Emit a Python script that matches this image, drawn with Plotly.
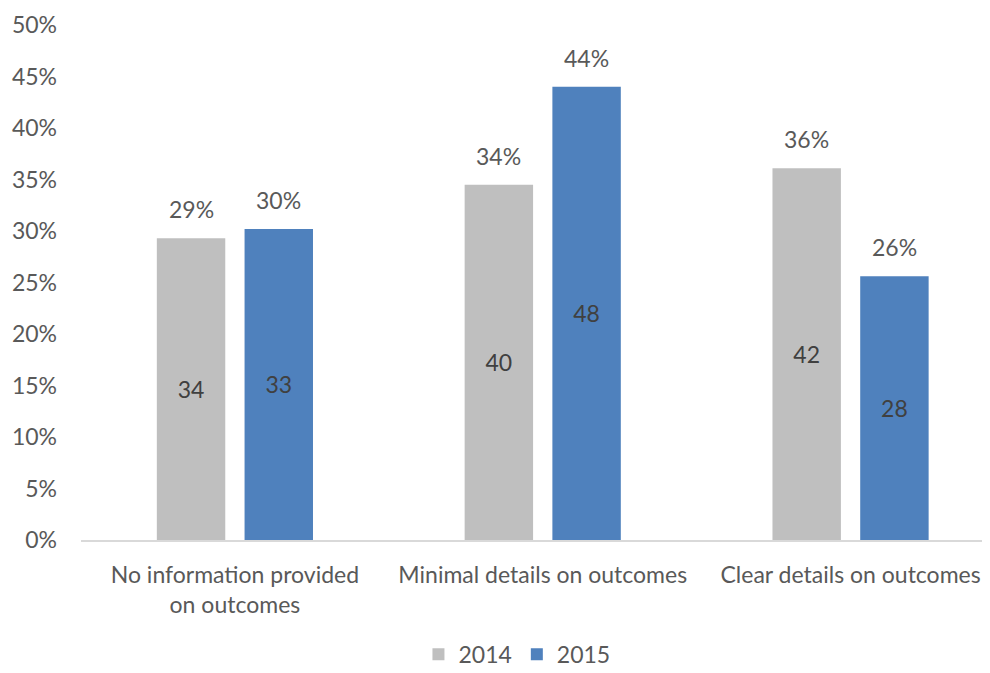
import plotly.graph_objects as go

categories = ["No information provided<br>on outcomes", "Minimal details on outcomes", "Clear details on outcomes"]
years = ["2014", "2015"]
share_2014 = [0.293, 0.3448, 0.361]
share_2015 = [0.302, 0.440, 0.256]
pct_2014 = ["29%", "34%", "36%"]
pct_2015 = ["30%", "44%", "26%"]
count_2014 = ["34", "40", "42"]
count_2015 = ["33", "48", "28"]
colors = ["#BFBFBF", "#4F81BD"]

FONT = "Lato"
fs = 24
txt = "#595959"

fig = go.Figure()
series = [(share_2014, count_2014, pct_2014), (share_2015, count_2015, pct_2015)]
for i, (vals, counts, pcts) in enumerate(series):
    fig.add_trace(go.Bar(
        x=categories, y=vals, name=years[i],
        marker=dict(color=colors[i], line=dict(width=0)),
        text=counts, textposition="inside", insidetextanchor="middle",
        textangle=0,
        textfont=dict(family=FONT, size=fs - 1, color="#404040"),
        cliponaxis=False,
    ))
    for j, c in enumerate(categories):
        fig.add_annotation(
            x=c, y=vals[j], text=pcts[j], showarrow=False,
            xshift=(i - 0.5) * 87.5, yshift=29, yanchor="middle",
            font=dict(family=FONT, size=fs - 1, color=txt),
        )

fig.update_layout(
    width=982, height=665,
    margin=dict(l=73, r=0, t=17, b=133, autoexpand=False),
    paper_bgcolor="white", plot_bgcolor="white",
    barmode="group", bargap=0.43, bargroupgap=0.22,
    font=dict(family=FONT, size=fs, color=txt),
    showlegend=True,
    legend=dict(orientation="h", x=0.4796, xanchor="center", y=-0.222, yanchor="middle",
                font=dict(family=FONT, size=fs - 1, color=txt)),
    xaxis=dict(range=[-0.5, 2.453], showgrid=False, showline=True, linecolor="#D9D9D9",
               linewidth=2, ticks="", tickfont=dict(family=FONT, size=fs - 1, color=txt),
               ticklabelstandoff=13, zeroline=False, automargin=False),
    yaxis=dict(range=[0, 0.5], dtick=0.05, tickformat=".0%", showgrid=False,
               zeroline=False, showline=False, ticks="", automargin=False,
               tickfont=dict(family=FONT, size=fs - 1, color=txt), ticklabelstandoff=23),
)

fig.write_html("out.html")
